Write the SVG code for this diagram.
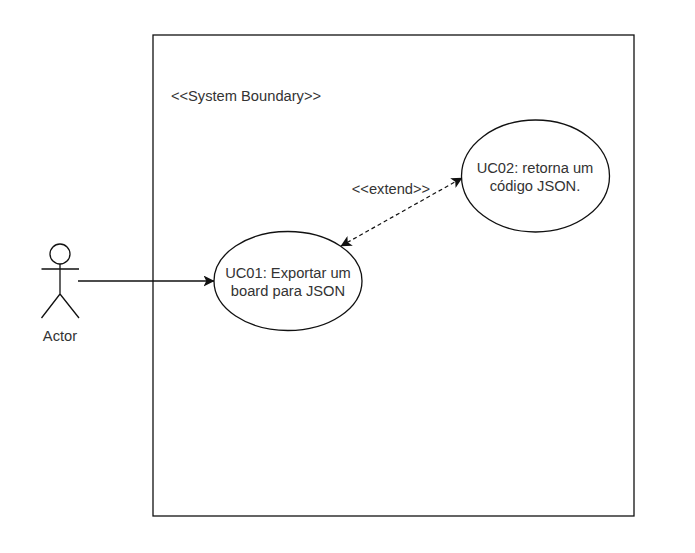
<svg xmlns="http://www.w3.org/2000/svg" width="695" height="553" viewBox="0 0 695 553">
<style>
.s{fill:#fff;stroke:#111;stroke-width:1.3}
.l{fill:none;stroke:#111;stroke-width:1.3}
.d{fill:none;stroke:#111;stroke-width:1.2;stroke-dasharray:4 3}
text{font-family:"Liberation Sans",Arial,sans-serif;font-size:14.7px;fill:#333;text-anchor:middle}
</style>
<defs>
<marker id="a" viewBox="0 0 10 10" refX="9.5" refY="5" markerWidth="11" markerHeight="11" markerUnits="userSpaceOnUse" orient="auto-start-reverse"><path d="M0 0L10 5L0 10L2.5 5Z" fill="#111"/></marker>
</defs>
<rect width="695" height="553" fill="#fff"/>
<g id="boundary"><rect class="s" x="153" y="35" width="481" height="481"/><text x="246" y="101">&lt;&lt;System Boundary&gt;&gt;</text></g>
<g id="connectors">
<path class="l" d="M78 281H214" marker-end="url(#a)"/>
<path class="d" d="M341 246L462 178" marker-start="url(#a)" marker-end="url(#a)"/>
<text x="391" y="194">&lt;&lt;extend&gt;&gt;</text>
</g>
<g id="actor"><circle class="s" cx="60" cy="254" r="10"/><path class="l" d="M60 264V294M41.5 269H79M60 294L41.5 318M60 294L79 318"/><text x="60" y="341">Actor</text></g>
<g id="uc01"><ellipse class="s" cx="288" cy="281" rx="74" ry="49.5"/><text x="288" y="278">UC01: Exportar um</text><text x="288" y="296">board para JSON</text></g>
<g id="uc02"><ellipse class="s" cx="535.5" cy="176" rx="74" ry="56"/><text x="535" y="173">UC02: retorna um</text><text x="535" y="191">código JSON.</text></g>
</svg>
